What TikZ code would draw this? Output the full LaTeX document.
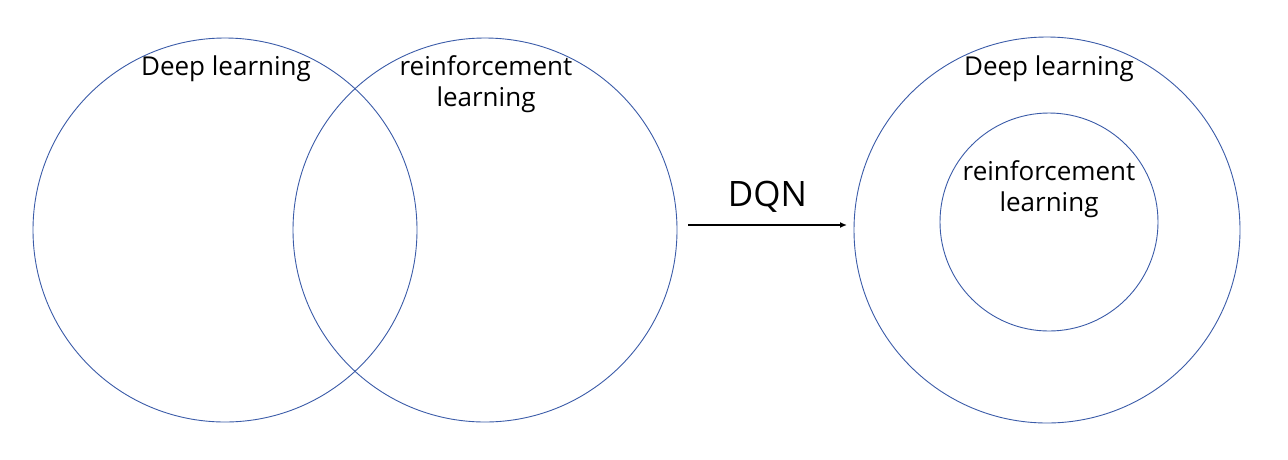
\documentclass[tikz,border=0pt]{standalone}
\usepackage{fontspec}
\setmainfont{Open Sans}
\usetikzlibrary{arrows.meta}
\definecolor{cblue}{HTML}{3A5BA8}
\begin{document}
\begin{tikzpicture}[x=1pt,y=-1pt,
  ring/.style={circle,draw=cblue,line width=0.9pt,inner sep=0pt},
  lbl/.style={font=\fontsize{26}{31}\selectfont,align=center,inner sep=0pt}]
\useasboundingbox (0,0) rectangle (1288,459);
\node[ring,minimum size=384pt] (c1) at (225,230) {};
\node[ring,minimum size=384pt] (c2) at (485,230) {};
\node[ring,minimum size=386pt] (c3) at (1047,230) {};
\node[ring,minimum size=218pt] (c4) at (1049,222) {};
\node[lbl] (t1) at (226,69) {Deep learning};
\node[lbl] (t2) at (486,84) {reinforcement\\learning};
\node[lbl] (t3) at (1049,69) {Deep learning};
\node[lbl] (t4) at (1049,189) {reinforcement\\learning};
\coordinate (a1) at (688,225);
\coordinate (a2) at (847,225);
\draw[line width=1.4pt,-{Latex[length=7pt,width=6pt]}] (a1) -- (a2) node[midway,above=12pt,font=\fontsize{35}{40}\selectfont,inner sep=0pt] (dqn) {DQN};
\end{tikzpicture}
\end{document}
